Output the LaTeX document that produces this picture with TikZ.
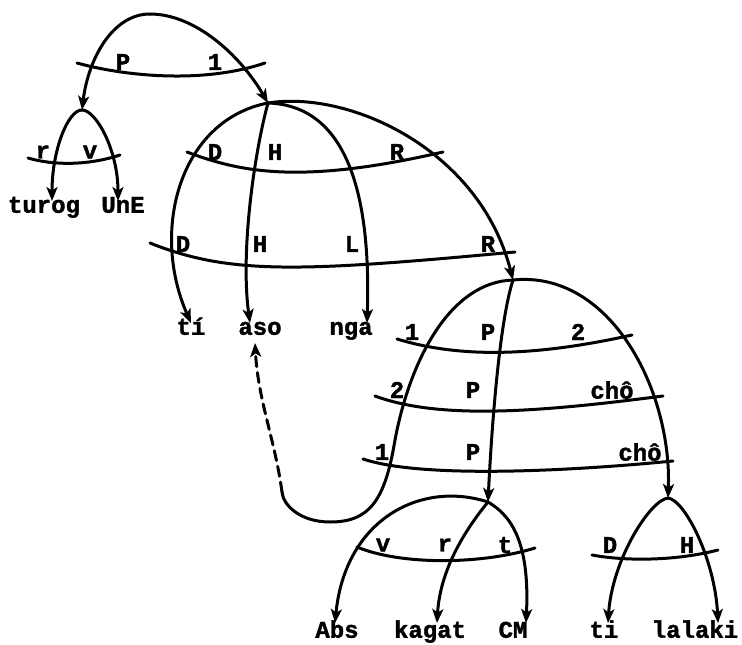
\documentclass[tikz,border=0pt]{standalone}
\usepackage{fontspec}
\newfontfamily\twfont[BoldFeatures={FakeBold=1.5}]{Liberation Mono}
\usetikzlibrary{arrows.meta}
\tikzset{
  arc/.style={line width=3pt, line cap=round},
  arr/.style={arc, -{Stealth[length=14pt,width=11pt,inset=3.5pt]}},
  dasharr/.style={arr, dash pattern=on 10pt off 6pt},
  strat/.style={line width=3pt, line cap=round},
  word/.style={font=\twfont\bfseries\fontsize{24}{26}\selectfont, inner xsep=0pt, inner ysep=6pt, text height=0.55em, text depth=0.2em},
  rel/.style={font=\twfont\bfseries\fontsize{24}{26}\selectfont, inner sep=0pt}
}
\begin{document}
\begin{tikzpicture}[x=1pt,y=-1pt]
\path[use as bounding box] (0,0) rectangle (742,645);
% clause nodes
\coordinate (c0) at (150,14);
\coordinate (c1) at (82,110);
\coordinate (c2) at (268,103);
\coordinate (c3) at (513,280);
\coordinate (c4) at (488,502);
\coordinate (c5) at (668,498);
\coordinate (lp) at (282,492);
% words
\node[word] (turog) at (44,211) {turog};
\node[word] (une) at (123,211) {UnE};
\node[word] (ti1) at (191,333) {tí};
\node[word] (aso) at (260,333) {aso};
\node[word] (nga) at (351,333) {nga};
\node[word] (abs) at (337,636) {Abs};
\node[word] (kagat) at (430,636) {kagat};
\node[word] (cm) at (513,636) {CM};
\node[word] (ti2) at (604,636) {ti};
\node[word] (lalaki) at (695,636) {lalaki};
% relation labels
\node[rel] (a1) at (123,62) {P};
\node[rel] (a2) at (215,62) {1};
\node[rel] (b1) at (43,152) {r};
\node[rel] (b2) at (90,152) {v};
\node[rel] (d1) at (215,152) {D};
\node[rel] (d2) at (275,152) {H};
\node[rel] (d3) at (397,152) {R};
\node[rel] (e1) at (183,244) {D};
\node[rel] (e2) at (260,244) {H};
\node[rel] (e3) at (352,244) {L};
\node[rel] (e4) at (488,244) {R};
\node[rel] (f1) at (412,332) {1};
\node[rel] (f2) at (488,332) {P};
\node[rel] (f3) at (578,332) {2};
\node[rel] (g1) at (397,390) {2};
\node[rel] (g2) at (473,390) {P};
\node[rel] (g3) at (612,390) {chô};
\node[rel] (h1) at (382,452) {1};
\node[rel] (h2) at (473,452) {P};
\node[rel] (h3) at (640,452) {chô};
\node[rel] (k1) at (383,545) {v};
\node[rel] (k2) at (445,545) {r};
\node[rel] (k3) at (505,545) {t};
\node[rel] (m1) at (610,545) {D};
\node[rel] (m2) at (687,545) {H};
% stratum lines
\draw[strat] (77,63) .. controls (120,75) and (200,85) .. (265,63);
\draw[strat] (28,158) .. controls (55,166) and (90,165) .. (120,155);
\draw[strat] (187,152) .. controls (240,172) and (300,185) .. (443,152);
\draw[strat] (150,243) .. controls (230,275) and (300,272) .. (515,252);
\draw[strat] (397,339) .. controls (450,355) and (520,360) .. (632,335);
\draw[strat] (375,396) .. controls (440,420) and (540,412) .. (663,396);
\draw[strat] (363,459) .. controls (420,478) and (560,472) .. (673,461);
\draw[strat] (357,547) .. controls (400,565) and (480,565) .. (535,548);
\draw[strat] (592,555) .. controls (630,562) and (680,560) .. (718,550);
% arcs
\draw[arr] (c0) .. controls (112,14) and (88,60) .. (c1);
\draw[arr] (c0) .. controls (195,14) and (240,55) .. (c2);
\draw[arr] (c1) .. controls (68,110) and (52,150) .. ([xshift=8pt]turog.north);
\draw[arr] (c1) .. controls (96,110) and (118,150) .. ([xshift=-5pt]une.north);
\draw[arr] (c2) .. controls (180,120) and (150,230) .. (ti1.north);
\draw[arr] (c2) .. controls (255,150) and (240,250) .. ([xshift=-10pt]aso.north);
\draw[arr] (c2) .. controls (335,105) and (372,170) .. ([xshift=16pt]nga.north);
\draw[arr] (c2) .. controls (350,90) and (480,150) .. (c3);
\draw[arc] (c3) .. controls (450,282) and (410,360) .. (395,440)
  .. controls (385,500) and (370,522) .. (330,522)
  .. controls (300,522) and (283,505) .. (lp);
\draw[dasharr] (lp) .. controls (275,440) and (258,400) .. ([xshift=-5pt]aso.south);
\draw[arr] (c3) .. controls (500,320) and (492,420) .. (c4);
\draw[arr] (c3) .. controls (610,270) and (672,390) .. (c5);
\draw[arr] (c4) .. controls (420,480) and (345,520) .. ([xshift=-2pt,yshift=3pt]abs.north);
\draw[arr] (c4) .. controls (465,530) and (440,570) .. ([xshift=7pt,yshift=3pt]kagat.north);
\draw[arr] (c4) .. controls (510,515) and (530,540) .. ([xshift=13pt,yshift=3pt]cm.north);
\draw[arr] (c5) .. controls (650,500) and (612,560) .. ([xshift=4pt,yshift=3pt]ti2.north);
\draw[arr] (c5) .. controls (685,500) and (715,560) .. ([xshift=23pt,yshift=3pt]lalaki.north);
\end{tikzpicture}
\end{document}
